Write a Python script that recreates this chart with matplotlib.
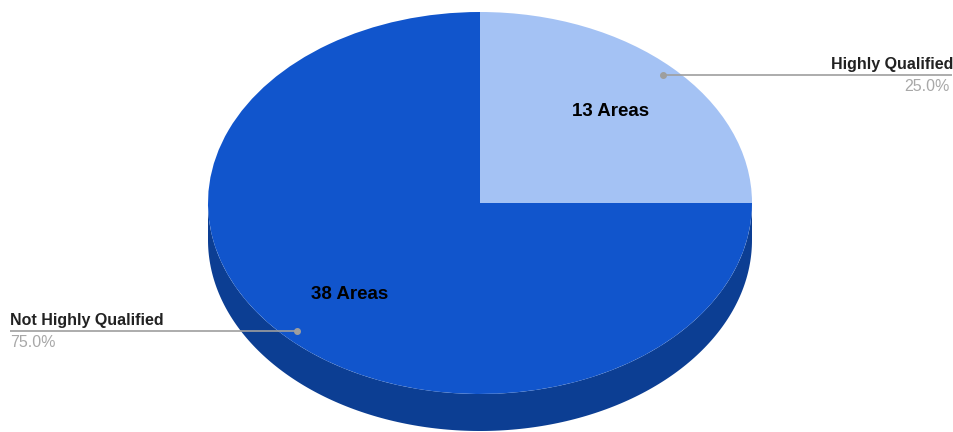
import numpy as np
import matplotlib
matplotlib.use("Agg")
import matplotlib.pyplot as plt
from matplotlib.patches import Wedge, Polygon
from matplotlib.transforms import Affine2D

plt.rcParams['font.family'] = ['Liberation Sans', 'DejaVu Sans']

categories = ["Highly Qualified", "Not Highly Qualified"]
shares = [25.0, 75.0]
counts = [13, 38]
colors = ["#a4c2f4", "#1155cc"]
side_color = "#0c3e93"

W, H = 954, 432
fig = plt.figure(figsize=(W / 100, H / 100), dpi=100)
ax = fig.add_axes([0, 0, 1, 1])
ax.set_xlim(0, W)
ax.set_ylim(H, 0)
ax.axis("off")

cx, cy, rx, ry, depth = 480, 203, 272, 191, 37
tr = Affine2D().scale(rx, -ry).translate(cx, cy) + ax.transData

th = np.linspace(np.pi, 2 * np.pi, 200)
top = np.column_stack([np.cos(th), np.sin(th)])
bot = top.copy()
bot[:, 1] -= depth / ry
side = np.vstack([top, bot[::-1]])
ax.add_patch(Polygon(side, closed=True, facecolor=side_color, edgecolor="none", transform=tr))

total = sum(shares)
start = 90.0
mids = []
for s, c in zip(shares, colors):
    sweep = 360.0 * s / total
    t1, t2 = start - sweep, start
    ax.add_patch(Wedge((0, 0), 1, t1, t2, facecolor=c, edgecolor="none", transform=tr))
    mids.append(np.deg2rad((t1 + t2) / 2))
    start = t1

def pt(a, r):
    return cx + r * rx * np.cos(a), cy - r * ry * np.sin(a)

for a, n in zip(mids, counts):
    x, y = pt(a, 0.68)
    ax.text(x, y, f"{n} Areas", ha="center", va="center", fontsize=13.5,
            fontweight="bold", color="black")

line_c = "#9e9e9e"
for a, name, s in zip(mids, categories, shares):
    x, y = pt(a, 0.95)
    pct = f"{100 * s / total:.1f}%"
    if np.cos(a) > 0:
        ax.plot([x, 952], [y, y], color=line_c, lw=1.2, solid_capstyle="butt")
        ax.text(953, y - 3, name, ha="right", va="bottom", fontsize=11.5, fontweight="bold", color="#222222")
        ax.text(950, y + 4, pct, ha="right", va="top", fontsize=11.5, color="#a8a8a8")
    else:
        ax.plot([10, x], [y, y], color=line_c, lw=1.2, solid_capstyle="butt")
        ax.text(10, y - 3, name, ha="left", va="bottom", fontsize=11.5, fontweight="bold", color="#222222")
        ax.text(10, y + 4, pct, ha="left", va="top", fontsize=11.5, color="#a8a8a8")
    ax.plot([x], [y], "o", color=line_c, markersize=4)

fig.savefig("out.png", dpi=100)
